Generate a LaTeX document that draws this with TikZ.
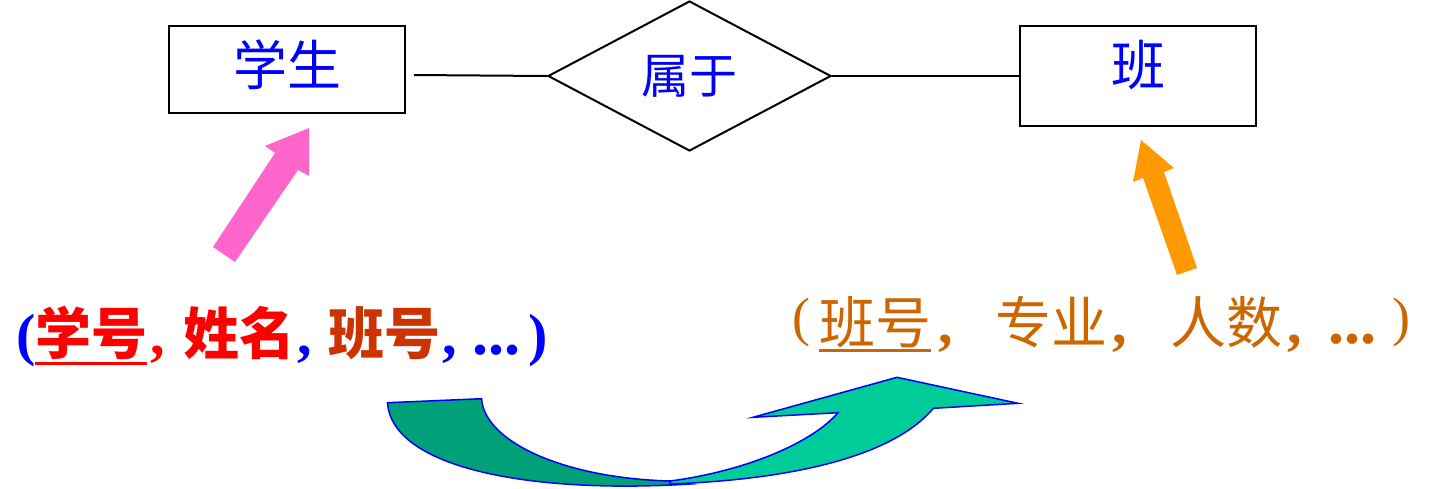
\documentclass[tikz,border=0pt]{standalone}
\usepackage{fontspec}
\newfontfamily\cjk{Noto Sans CJK SC}
\newfontfamily\lat{Liberation Serif}
\usetikzlibrary{shapes.geometric}
\definecolor{ttlblue}{RGB}{0,0,255}
\definecolor{rd}{RGB}{255,0,0}
\definecolor{rust}{RGB}{204,51,0}
\definecolor{org}{RGB}{204,102,0}
\definecolor{pinkc}{RGB}{255,102,204}
\definecolor{orangec}{RGB}{255,153,0}
\definecolor{dkgreen}{RGB}{0,160,120}
\definecolor{ltgreen}{RGB}{0,204,153}
\begin{document}
\begin{tikzpicture}[x=1pt,y=-1pt,
  boxsty/.style={draw=black,line width=2pt,inner sep=0pt,minimum width=236pt},
  ttl/.style={text=ttlblue,font=\cjk\fontsize{54pt}{60pt}\selectfont},
  lnk/.style={draw=black,line width=2pt},
  cj/.style={inner sep=0pt,anchor=base west,font=\cjk\bfseries\fontsize{56pt}{60pt}\selectfont},
  cjr/.style={inner sep=0pt,anchor=base west,text=org,font=\cjk\fontsize{56pt}{60pt}\selectfont},
  lt/.style={inner sep=0pt,anchor=base west,font=\lat\bfseries\fontsize{58pt}{60pt}\selectfont},
  dots/.style={inner sep=0pt,anchor=base west,font=\lat\bfseries\fontsize{64pt}{60pt}\selectfont},
  rp/.style={inner sep=0pt,anchor=base west,text=org,font=\lat\fontsize{54pt}{60pt}\selectfont},
  curvarrow/.style={draw=ttlblue,line width=1.5pt,line join=miter}
]
\useasboundingbox (0,0) rectangle (1443,488);

% entity and relationship nodes
\node[boxsty,minimum height=87pt,label={[ttl,inner sep=0pt,yshift=5pt]center:学生}] (stu) at (287,69.5) {};
\node[boxsty,minimum height=100pt,label={[ttl,inner sep=0pt,yshift=11pt]center:班}] (cls) at (1138,76) {};
\node[draw=black,diamond,line width=2pt,minimum width=283pt,minimum height=150pt,inner sep=0pt,
      text=ttlblue,font=\cjk\fontsize{48pt}{52pt}\selectfont] (rel) at (689.5,76) {\raisebox{2pt}{属于}};

\coordinate (lstart) at (414,75);
\draw[lnk] (lstart) -- (rel.west);
\draw[lnk] (rel.east) -- (cls.west);

% block arrows
\fill[pinkc] (213,247) -- (275,153) -- (265,146) -- (309,128) -- (309,176) -- (298,170) -- (235,262) -- cycle;
\fill[orangec] (1177,275) -- (1143,178) -- (1133,182) -- (1141,140) -- (1174,168) -- (1164,172) -- (1197,268) -- cycle;

% left tuple
\node[lt,text=ttlblue] (p1) at (16,354) {(};
\node[cj,text=rd] (a1) at (35,354) {学号};
\node[lt,text=rd] (c1) at (150,354) {,};
\node[cj,text=rd] (a2) at (183,354) {姓名};
\node[lt,text=ttlblue] (c2) at (297,354) {,};
\node[cj,text=rust] (a3) at (328,354) {班号};
\node[lt,text=ttlblue] (c3) at (442,354) {,};
\node[dots,text=ttlblue] (d1) at (472,354) {...};
\node[lt,text=ttlblue] (p2) at (528,354) {)};
\draw[rd,line width=3pt] ([yshift=-9.5pt]a1.base west) -- ([yshift=-9.5pt]a1.base east);

% right tuple
\node[rp] (q1) at (792,335) {(};
\node[cjr] (b1) at (819,343) {班号};
\node[lt,text=org] (e1) at (938,343) {,};
\node[cjr] (b2) at (995,343) {专业};
\node[lt,text=org] (e2) at (1112,343) {,};
\node[cjr] (b3) at (1170,343) {人数};
\node[lt,text=org] (e3) at (1287,343) {,};
\node[dots,text=org] (e4) at (1328,343) {...};
\node[rp] (q2) at (1392,335) {)};
\draw[org,line width=3pt] ([yshift=-7pt]b1.base west) -- ([yshift=-7pt]b1.base east);

% curved arrow
\filldraw[curvarrow,fill=dkgreen] (387.5,402.7) -- (481.6,398.7)
   .. controls (484,440) and (560,478) .. (670,481)
   -- (690,484)
   .. controls (530,494) and (392,468) .. (387.5,402.7) -- cycle;
\filldraw[curvarrow,fill=ltgreen] (670,481)
   .. controls (740,472) and (810,445) .. (838,412.7)
   -- (753,417.3) -- (897,377.3) -- (1018,403.3) -- (933.3,408.3)
   .. controls (890,460) and (780,480) .. (670,484) -- cycle;
\end{tikzpicture}
\end{document}
